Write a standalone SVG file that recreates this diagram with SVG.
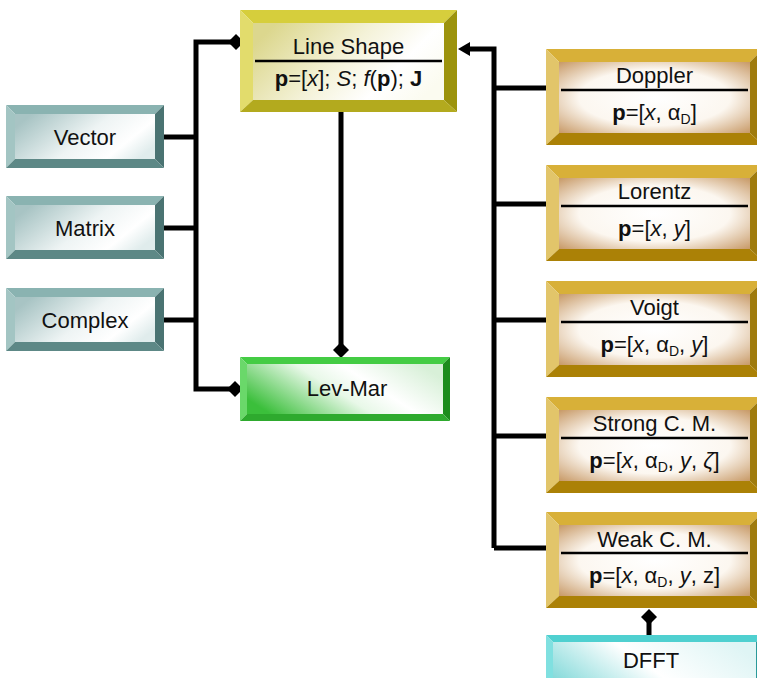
<svg xmlns="http://www.w3.org/2000/svg" width="757" height="678" viewBox="0 0 757 678">
<style>
text{font-family:"Liberation Sans",Arial,sans-serif;font-size:22px;fill:#111;text-anchor:middle}
.b{font-weight:bold}
.i{font-style:italic}
.sub{font-size:14px}
.div{stroke:#000;stroke-width:2.5}
.conn path{fill:none;stroke:#000;stroke-width:5;stroke-linejoin:miter}
.olive .t{fill:#d6ce3c}.olive .l{fill:#e2dc6c}.olive .r{fill:#9c930c}.olive .bt{fill:#b3aa1e}.olive .face{fill:url(#gOlive)}
.teal .t{fill:#8ab3b1}.teal .l{fill:#a3c5c3}.teal .r{fill:#4a7372}.teal .bt{fill:#5d8886}.teal .face{fill:url(#gTeal)}
.gold .t{fill:#d8b038}.gold .l{fill:#e2c56a}.gold .r{fill:#9f7b0d}.gold .bt{fill:#ab8106}.gold .face{fill:url(#gGold)}
.green .t{fill:#44cc44}.green .l{fill:#6ad86a}.green .r{fill:#1c8c1c}.green .bt{fill:#2eaa2e}.green .face{fill:url(#gGreen)}
.cyan .t{fill:#4fd0d0}.cyan .l{fill:#80e0e0}.cyan .r{fill:#2a9a9a}.cyan .bt{fill:#38b0b0}.cyan .face{fill:url(#gCyan)}
</style>
<defs>
<linearGradient id="gOlive" x1="0" y1="0.3" x2="1" y2="0.7"><stop offset="0" stop-color="#dcd78e"/><stop offset="0.45" stop-color="#f4f2d8"/><stop offset="0.75" stop-color="#ffffff"/><stop offset="1" stop-color="#fbfbf0"/></linearGradient>
<linearGradient id="gTeal" x1="0" y1="0.3" x2="1" y2="0.7"><stop offset="0" stop-color="#a8c4c4"/><stop offset="0.5" stop-color="#eef4f4"/><stop offset="0.8" stop-color="#ffffff"/><stop offset="1" stop-color="#e0ecec"/></linearGradient>
<radialGradient id="gGold" cx="0.5" cy="0.5" r="0.72"><stop offset="0" stop-color="#ffffff"/><stop offset="0.55" stop-color="#fcf7f0"/><stop offset="1" stop-color="#c59560"/></radialGradient>
<linearGradient id="gGreen" x1="0" y1="0.7" x2="1" y2="0.3"><stop offset="0" stop-color="#3bbf3b"/><stop offset="0.45" stop-color="#e8f8e8"/><stop offset="0.65" stop-color="#ffffff"/><stop offset="1" stop-color="#d8f0d8"/></linearGradient>
<linearGradient id="gCyan" x1="0" y1="0.7" x2="1" y2="0.3"><stop offset="0" stop-color="#7fd8d8"/><stop offset="0.5" stop-color="#ffffff"/><stop offset="1" stop-color="#dff5f5"/></linearGradient>
<marker id="dia" viewBox="0 0 16 16" refX="8" refY="8" markerWidth="16" markerHeight="16" markerUnits="userSpaceOnUse" orient="auto"><path d="M0,8 L8,0 L16,8 L8,16 z" fill="#000"/></marker>
<marker id="arr" viewBox="0 0 12 14" refX="0" refY="7" markerWidth="12" markerHeight="14" markerUnits="userSpaceOnUse" orient="auto"><path d="M0,0 L12,7 L0,14 z" fill="#000"/></marker>
</defs>

<g class="conn" id="connectors">
<path d="M164,137 H196"/>
<path d="M164,228 H196"/>
<path d="M164,320 H196"/>
<path d="M196,137 V42 H236" marker-end="url(#dia)"/>
<path d="M196,137 V389 H235" marker-end="url(#dia)"/>
<path d="M341,112 V350" marker-end="url(#dia)"/>
<path d="M494,548 V49 H470" marker-end="url(#arr)"/>
<path d="M546,88 H494"/>
<path d="M546,204 H494"/>
<path d="M546,320 H494"/>
<path d="M546,436 H494"/>
<path d="M546,548 H494"/>
<path d="M649,635 V617" marker-end="url(#dia)"/>
</g>

<g id="lineshape" class="olive">
<polygon class="t" points="240,10 457,10 444,23 253,23"/>
<polygon class="l" points="240,10 253,23 253,100 240,112"/>
<polygon class="r" points="457,10 457,112 444,100 444,23"/>
<polygon class="bt" points="240,112 253,100 444,100 457,112"/>
<rect class="face" x="253" y="23" width="191" height="77"/>
<text x="348.5" y="54">Line Shape</text>
<line class="div" x1="255" y1="61" x2="442" y2="61"/>
<text x="348.5" y="86"><tspan class="b">p</tspan>=[<tspan class="i">x</tspan>]; <tspan class="i">S</tspan>; <tspan class="i">f</tspan>(<tspan class="b">p</tspan>); <tspan class="b">J</tspan></text>
</g>

<g id="vector" class="teal">
<polygon class="t" points="6,105 164,105 155,114 15,114"/>
<polygon class="l" points="6,105 15,114 15,159 6,168"/>
<polygon class="r" points="164,105 164,168 155,159 155,114"/>
<polygon class="bt" points="6,168 15,159 155,159 164,168"/>
<rect class="face" x="15" y="114" width="140" height="45"/>
<text x="85" y="145">Vector</text>
</g>

<g id="matrix" class="teal">
<polygon class="t" points="6,196 164,196 155,205 15,205"/>
<polygon class="l" points="6,196 15,205 15,250 6,259"/>
<polygon class="r" points="164,196 164,259 155,250 155,205"/>
<polygon class="bt" points="6,259 15,250 155,250 164,259"/>
<rect class="face" x="15" y="205" width="140" height="45"/>
<text x="85" y="236">Matrix</text>
</g>

<g id="complex" class="teal">
<polygon class="t" points="6,288 164,288 155,297 15,297"/>
<polygon class="l" points="6,288 15,297 15,342 6,351"/>
<polygon class="r" points="164,288 164,351 155,342 155,297"/>
<polygon class="bt" points="6,351 15,342 155,342 164,351"/>
<rect class="face" x="15" y="297" width="140" height="45"/>
<text x="85" y="328">Complex</text>
</g>

<g id="levmar" class="green">
<polygon class="t" points="240,357 450,357 443,364 247,364"/>
<polygon class="l" points="240,357 247,364 247,414 240,421"/>
<polygon class="r" points="450,357 450,421 443,414 443,364"/>
<polygon class="bt" points="240,421 247,414 443,414 450,421"/>
<rect class="face" x="247" y="364" width="196" height="50"/>
<text x="347" y="396">Lev-Mar</text>
</g>

<g id="doppler" class="gold">
<polygon class="t" points="546,49 763,49 750,62 559,62"/>
<polygon class="l" points="546,49 559,62 559,133 546,145"/>
<polygon class="r" points="763,49 763,145 750,133 750,62"/>
<polygon class="bt" points="546,145 559,133 750,133 763,145"/>
<rect class="face" x="559" y="62" width="191" height="71"/>
<text x="654.5" y="83">Doppler</text>
<line class="div" x1="561" y1="90" x2="748" y2="90"/>
<text x="654.5" y="120"><tspan class="b">p</tspan>=[<tspan class="i">x</tspan>, α<tspan class="sub" dy="4">D</tspan><tspan dy="-4">]</tspan></text>
</g>

<g id="lorentz" class="gold">
<polygon class="t" points="546,165 763,165 750,178 559,178"/>
<polygon class="l" points="546,165 559,178 559,249 546,261"/>
<polygon class="r" points="763,165 763,261 750,249 750,178"/>
<polygon class="bt" points="546,261 559,249 750,249 763,261"/>
<rect class="face" x="559" y="178" width="191" height="71"/>
<text x="654.5" y="199">Lorentz</text>
<line class="div" x1="561" y1="206" x2="748" y2="206"/>
<text x="654.5" y="236"><tspan class="b">p</tspan>=[<tspan class="i">x</tspan>, <tspan class="i">y</tspan>]</text>
</g>

<g id="voigt" class="gold">
<polygon class="t" points="546,281 763,281 750,294 559,294"/>
<polygon class="l" points="546,281 559,294 559,365 546,377"/>
<polygon class="r" points="763,281 763,377 750,365 750,294"/>
<polygon class="bt" points="546,377 559,365 750,365 763,377"/>
<rect class="face" x="559" y="294" width="191" height="71"/>
<text x="654.5" y="315">Voigt</text>
<line class="div" x1="561" y1="322" x2="748" y2="322"/>
<text x="654.5" y="352"><tspan class="b">p</tspan>=[<tspan class="i">x</tspan>, α<tspan class="sub" dy="4">D</tspan><tspan dy="-4">, </tspan><tspan class="i">y</tspan>]</text>
</g>

<g id="strong" class="gold">
<polygon class="t" points="546,397 763,397 750,410 559,410"/>
<polygon class="l" points="546,397 559,410 559,481 546,493"/>
<polygon class="r" points="763,397 763,493 750,481 750,410"/>
<polygon class="bt" points="546,493 559,481 750,481 763,493"/>
<rect class="face" x="559" y="410" width="191" height="71"/>
<text x="654.5" y="431">Strong C. M.</text>
<line class="div" x1="561" y1="438" x2="748" y2="438"/>
<text x="654.5" y="468"><tspan class="b">p</tspan>=[<tspan class="i">x</tspan>, α<tspan class="sub" dy="4">D</tspan><tspan dy="-4">, </tspan><tspan class="i">y</tspan>, <tspan class="i">ζ</tspan>]</text>
</g>

<g id="weak" class="gold">
<polygon class="t" points="546,512 763,512 750,525 559,525"/>
<polygon class="l" points="546,512 559,525 559,596 546,608"/>
<polygon class="r" points="763,512 763,608 750,596 750,525"/>
<polygon class="bt" points="546,608 559,596 750,596 763,608"/>
<rect class="face" x="559" y="525" width="191" height="71"/>
<text x="654.5" y="547">Weak C. M.</text>
<line class="div" x1="561" y1="553" x2="748" y2="553"/>
<text x="654.5" y="583"><tspan class="b">p</tspan>=[<tspan class="i">x</tspan>, α<tspan class="sub" dy="4">D</tspan><tspan dy="-4">, </tspan><tspan class="i">y</tspan>, z]</text>
</g>

<g id="dfft" class="cyan">
<polygon class="t" points="546,635 763,635 756,642 553,642"/>
<polygon class="l" points="546,635 553,642 553,700 546,700"/>
<polygon class="r" points="763,635 763,700 756,700 756,642"/>
<rect class="face" x="553" y="642" width="203" height="58"/>
<text x="651" y="668">DFFT</text>
</g>
</svg>
